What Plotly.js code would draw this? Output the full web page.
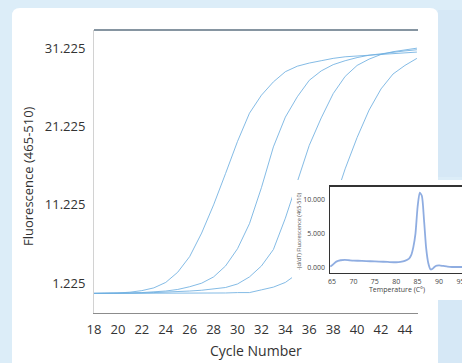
<!DOCTYPE html>
<html><head><meta charset="utf-8">
<script src="https://cdn.plot.ly/plotly-3.0.1.min.js"></script>
<style>html,body{margin:0;padding:0;background:#dcedf8}#chart{width:462px;height:363px}</style>
</head><body><div id="chart"></div>
<script>
// Amplification curves (cycle number vs fluorescence 465-510)
var cycles = [18,19,20,21,22,23,24,25,26,27,28,29,30,31,32,33,34,35,36,37,38,39,40,41,42,43,44,45];
var sample1 = [-0.1,-0.1,-0.05,0.05,0.25,0.6,1.3,2.6,4.6,7.6,11.2,15.2,19.3,22.9,25.2,26.9,28.2,28.9,29.3,29.6,29.9,30.1,30.2,30.35,30.45,30.55,30.65,30.7];
var sample2 = [-0.1,-0.1,-0.1,-0.05,0.0,0.1,0.2,0.4,0.75,1.2,2.0,3.4,5.6,8.8,13.4,18.6,22.4,25.0,27.1,28.3,29.1,29.6,30.0,30.3,30.5,30.7,30.85,31.0];
var sample3 = [-0.1,-0.1,-0.1,-0.1,-0.05,0.0,0.05,0.1,0.2,0.3,0.45,0.65,1.1,2.0,3.4,5.5,9.5,14.3,18.8,22.3,25.4,27.6,29.0,29.8,30.4,30.75,31.0,31.2];
var sample4 = [-0.1,-0.1,-0.1,-0.1,-0.1,-0.1,-0.1,-0.1,-0.1,-0.1,-0.05,-0.05,0.0,0.0,0.35,0.7,1.3,2.4,4.2,7.0,11.2,15.8,19.8,23.3,26.0,27.9,29.0,29.9];
var yTickVals = [1.225, 11.225, 21.225, 31.225];
var yTickText = ['1.225', '11.225', '21.225', '31.225'];
var xTickVals = [18,20,22,24,26,28,30,32,34,36,38,40,42,44];

// Melt curve inset
var meltTemp = [64.6,65,66,67,68,69,70,72,74,76,78,80,81,82,83,83.5,84,84.5,85,85.5,86,86.5,87,87.5,88,88.5,89,89.5,90,91,92,93,94,95,96];
var meltDeriv = [0.1,0.3,0.85,1.05,1.1,1.05,1.0,0.95,0.9,0.85,0.8,0.75,0.8,0.95,1.3,1.8,3.0,5.0,9.0,11.1,10.6,7.0,2.8,0.6,-0.3,-0.2,0.1,0.25,0.3,0.2,0.1,0.05,0.05,0.05,0.05];
var meltXTicks = [65,70,75,80,85,90,95];
var meltYTicks = [0,5,10];
var meltYText = ['0.000','5.000','10.000'];

// pixel -> paper helpers (layout geometry)
var L = 94, R = 0, T = 30, B = 50, W = 462, H = 363;
var PW = W - L - R, PH = H - T - B;
function px(x){ return (x - L) / PW; }
function py(y){ return (H - B - y) / PH; }

var font = 'Open Sans, sans-serif';
var lineStyle = {color: 'rgba(110,175,225,0.85)', width: 1};

var traces = [sample1, sample2, sample3, sample4].map(function(s){
  return {x: cycles, y: s, type: 'scatter', mode: 'lines', line: lineStyle, xaxis: 'x', yaxis: 'y', hoverinfo: 'skip'};
});
// cover subplot (white background behind inset)
traces.push({x: [], y: [], type: 'scatter', mode: 'lines', xaxis: 'x2', yaxis: 'y2', hoverinfo: 'skip'});
// melt curve
traces.push({x: meltTemp, y: meltDeriv, type: 'scatter', mode: 'lines', xaxis: 'x3', yaxis: 'y3',
  line: {color: 'rgba(105,145,215,0.75)', width: 1.8, shape: 'spline', smoothing: 0.6}, hoverinfo: 'skip'});

var panelPath = 'M ' + px(12) + ',' + py(380) + ' L ' + px(12) + ',' + py(16) +
  ' Q ' + px(12) + ',' + py(8) + ' ' + px(20) + ',' + py(8) +
  ' L ' + px(430) + ',' + py(8) +
  ' Q ' + px(438) + ',' + py(8) + ' ' + px(438) + ',' + py(16) +
  ' L ' + px(438) + ',' + py(380) + ' Z';

var layout = {
  width: W, height: H,
  margin: {l: L, r: R, t: T, b: B, pad: 0},
  paper_bgcolor: '#dcedf8',
  plot_bgcolor: '#ffffff',
  showlegend: false,
  font: {family: font, color: '#333'},
  xaxis: {domain: [0, px(418)], range: [18, 18 + (418 - 94) / 11.96], tickvals: xTickVals,
    showline: true, linecolor: '#8c8c8c', linewidth: 1, ticks: '', showgrid: false, zeroline: false,
    tickfont: {size: 13, family: font, color: '#333'}, ticklabelstandoff: 4, anchor: 'y'},
  yaxis: {domain: [0, 1], range: [-2.605, 33.52], tickvals: yTickVals, ticktext: yTickText,
    showline: true, linecolor: '#d2d2d2', linewidth: 1, ticks: '', showgrid: false, zeroline: false,
    tickfont: {size: 13, family: font, color: '#333'}, ticklabelstandoff: 5, anchor: 'x'},
  xaxis2: {domain: [px(292), 1], range: [0, 1], visible: false, anchor: 'y2'},
  yaxis2: {domain: [py(300), py(180)], range: [0, 1], visible: false, anchor: 'x2'},
  xaxis3: {domain: [px(330), 1], range: [64.53, 95.37], tickvals: meltXTicks,
    showline: true, mirror: true, linecolor: '#333', linewidth: 1.5, ticks: '', showgrid: false, zeroline: false,
    tickfont: {size: 7, family: font, color: '#444'}, ticklabelstandoff: 1, ticklabeloverflow: 'allow', anchor: 'y3'},
  yaxis3: {domain: [py(272.7), py(186.7)], range: [-0.8, 11.98], tickvals: meltYTicks, ticktext: meltYText,
    showline: true, linecolor: '#333', linewidth: 1.5, ticks: '', showgrid: false, zeroline: false,
    tickfont: {size: 7, family: font, color: '#444'}, ticklabelstandoff: 2, anchor: 'x3'},
  shapes: [
    {type: 'rect', xref: 'paper', yref: 'paper', x0: px(438), x1: px(470), y0: py(177), y1: py(10), fillcolor: '#d6e8f6', line: {width: 0}, layer: 'below'},
    {type: 'rect', xref: 'paper', yref: 'paper', x0: px(438), x1: px(470), y0: py(370), y1: py(297), fillcolor: '#d6e8f6', line: {width: 0}, layer: 'below'},
    {type: 'path', xref: 'paper', yref: 'paper', path: panelPath, fillcolor: '#ffffff', line: {width: 0}, layer: 'below'},
    {type: 'line', xref: 'paper', yref: 'paper', x0: 0, x1: px(418), y0: 1, y1: 1, line: {color: '#5e7282', width: 1.5}, layer: 'above'}
  ],
  annotations: [
    {text: 'Cycle Number', xref: 'paper', yref: 'paper', x: px(256), y: py(350), xanchor: 'center', yanchor: 'middle', showarrow: false, font: {size: 14, family: font, color: '#333'}},
    {text: 'Fluorescence (465-510)', xref: 'paper', yref: 'paper', x: px(28), y: py(176), xanchor: 'center', yanchor: 'middle', textangle: -90, showarrow: false, font: {size: 13, family: font, color: '#333'}},
    {text: 'Temperature (C°)', xref: 'paper', yref: 'paper', x: px(397), y: py(289), xanchor: 'center', yanchor: 'middle', showarrow: false, font: {size: 7, family: font, color: '#444'}},
    {text: '-(d/dT) Fluorescence (465-510)', xref: 'paper', yref: 'paper', x: px(299), y: py(231), xanchor: 'center', yanchor: 'middle', textangle: -90, showarrow: false, font: {size: 5.5, family: font, color: '#555'}}
  ]
};

Plotly.newPlot('chart', traces, layout, {staticPlot: true, displayModeBar: false});
</script></body></html>
